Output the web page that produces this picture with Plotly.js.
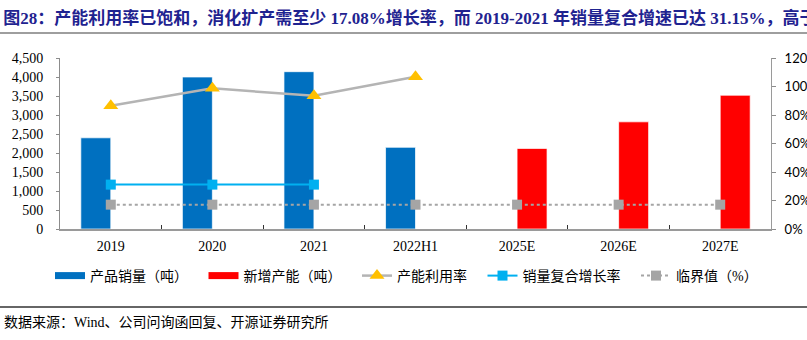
<!DOCTYPE html>
<html>
<head>
<meta charset="utf-8">
<script src="https://cdn.plot.ly/plotly-3.0.1.min.js"></script>
<style>html,body{margin:0;padding:0;background:#fff;}#chart{width:807px;height:340px;}</style>
</head>
<body>
<div id="chart"></div>
<script>
const categories = ["2019", "2020", "2021", "2022H1", "2025E", "2026E", "2027E"];
const salesTons = [2400, 4000, 4140, 2150, null, null, null];
const newCapacityTons = [null, null, null, null, 2120, 2820, 3520];
const utilCats = ["2019", "2020", "2021", "2022H1"];
const utilizationRate = [0.865, 0.987, 0.935, 1.069];
const cagrCats = ["2019", "2020", "2021"];
const salesCagr = [0.3115, 0.3115, 0.3115];
const thresholdRate = [0.1708, 0.1708, 0.1708, 0.1708, 0.1708, 0.1708, 0.1708];
const leftTicks = [0, 500, 1000, 1500, 2000, 2500, 3000, 3500, 4000, 4500];
const rightTicks = [0, 0.2, 0.4, 0.6, 0.8, 1.0, 1.2];

const titleText = "图28：产能利用率已饱和，消化扩产需至少 17.08%增长率，而 2019-2021 年销量复合增速已达 31.15%，高于";
const sourceText = "数据来源：Wind、公司问询函回复、开源证券研究所";
const names = ["产品销量（吨）", "新增产能（吨）", "产能利用率", "销量复合增长率", "临界值（%）"];

const SERIF = "Liberation Serif, Times New Roman, Noto Sans CJK SC, serif";
const BLUE = "#0070C0", RED = "#FF0000", GRAY = "#A5A5A5", GOLD = "#FFC000", CYAN = "#00B0F0";
const PAD = "\u00a0\u00a0\u00a0";

const traces = [
  {type: "bar", x: categories, y: salesTons, name: names[0], marker: {color: BLUE, line: {color: "rgba(255,255,255,0.7)", width: 1}}, showlegend: false, hoverinfo: "skip"},
  {type: "bar", x: categories, y: newCapacityTons, name: names[1], marker: {color: RED, line: {color: "rgba(255,255,255,0.7)", width: 1}}, showlegend: false, hoverinfo: "skip"},
  {type: "scatter", mode: "lines+markers", x: utilCats, y: utilizationRate, yaxis: "y2", name: names[2] + PAD, line: {color: "#B4B4B4", width: 2.5}, marker: {symbol: "triangle-up", size: 13, color: GOLD}, legendrank: 3},
  {type: "scatter", mode: "lines+markers", x: cagrCats, y: salesCagr, yaxis: "y2", name: names[3] + PAD, line: {color: CYAN, width: 2}, marker: {symbol: "square", size: 10, color: CYAN}, legendrank: 4},
  {type: "scatter", mode: "lines+markers", x: categories, y: thresholdRate, yaxis: "y2", name: names[4], line: {color: GRAY, width: 2, dash: "dot"}, marker: {symbol: "square", size: 10, color: GRAY}, legendrank: 5},
  {type: "scatter", mode: "lines", x: [null], y: [null], name: names[0] + PAD, line: {color: BLUE, width: 7}, legendrank: 1, hoverinfo: "skip"},
  {type: "scatter", mode: "lines", x: [null], y: [null], name: names[1] + PAD, line: {color: RED, width: 7}, legendrank: 2, hoverinfo: "skip"}
];

const layout = {
  width: 807, height: 340,
  margin: {l: 60, r: 36, t: 58, b: 111, pad: 0},
  paper_bgcolor: "#fff", plot_bgcolor: "#fff",
  barmode: "group", bargap: 0.41, bargroupgap: 0,
  showlegend: true,
  title: {text: "<b>" + titleText + "</b>", x: 0.004, xanchor: "left", xref: "container", y: 1 - 18/340, yanchor: "middle", yref: "container",
          font: {family: SERIF, size: 17, color: "#1F2390"}},
  xaxis: {type: "category", categoryorder: "array", categoryarray: categories,
          showline: true, linecolor: "#9A9A9A", linewidth: 2, showgrid: false, zeroline: false,
          ticks: "inside", tickson: "boundaries", ticklen: 4, tickcolor: "#333", tickwidth: 1,
          ticklabelstandoff: 3,
          tickfont: {family: SERIF, size: 14, color: "#000"}, fixedrange: true},
  yaxis: {range: [0, 4500], tickvals: leftTicks, tickformat: ",d", showgrid: false, zeroline: false,
          showline: true, linecolor: "#8C8C8C", linewidth: 1, ticks: "outside", ticklen: 3, tickcolor: "#8C8C8C",
          ticklabelstandoff: 10, tickfont: {family: SERIF, size: 14, color: "#000"}},
  yaxis2: {overlaying: "y", side: "right", range: [0, 1.2], tickvals: rightTicks, tickformat: ".0%", showgrid: false, zeroline: false,
           showline: true, linecolor: "#9A9A9A", linewidth: 1, ticks: "outside", ticklen: 4, tickcolor: "#8C8C8C",
           ticklabelstandoff: 6, tickfont: {family: "Lato, Liberation Sans, sans-serif", size: 13, color: "#000"}},
  legend: {orientation: "h", xref: "container", yref: "container", x: 50/807, xanchor: "left", y: 1 - 276/340, yanchor: "middle",
           font: {family: SERIF, size: 14, color: "#000"}, itemwidth: 30, traceorder: "normal", bgcolor: "rgba(0,0,0,0)"},
  shapes: [
    {type: "line", xref: "paper", yref: "paper", x0: -60/711, x1: 747/711, y0: (229-33)/171, y1: (229-33)/171, line: {color: "#9E9E9E", width: 2}},
    {type: "line", xref: "paper", yref: "paper", x0: -60/711, x1: 747/711, y0: (229-307)/171, y1: (229-307)/171, line: {color: "#333", width: 1.5}}
  ],
  annotations: [
    {text: sourceText, xref: "paper", yref: "paper", x: -58/711, xanchor: "left", y: (229-322)/171, yanchor: "middle", showarrow: false,
     font: {family: SERIF, size: 14, color: "#000"}}
  ]
};

Plotly.newPlot("chart", traces, layout, {staticPlot: true, displayModeBar: false});
</script>
</body>
</html>
